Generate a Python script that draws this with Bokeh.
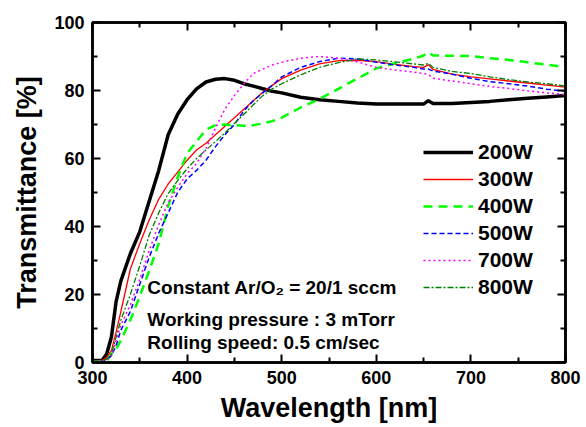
from bokeh.plotting import figure
from bokeh.models import (FixedTicker, LinearAxis, Legend, LegendItem, Label,
                          CustomJSTickFormatter)
from bokeh.embed import file_html
from bokeh.resources import INLINE

# ---------------- data ----------------
wavelength = [300, 310, 315, 320, 325, 330, 340, 350, 360, 370, 380, 390, 400,
              410, 420, 430, 440, 450, 460, 470, 480, 490, 500, 520, 540, 560,
              580, 600, 620, 640, 650, 655, 660, 680, 700, 720, 740, 760, 780, 800]

t_200w = [0.6, 0.6, 2.5, 7.5, 18, 24, 32, 38.5, 47.5, 56.5, 67, 73, 77.3,
          80.5, 82.5, 83.3, 83.5, 83, 82, 81.3, 80.5, 79.8, 79.3, 78, 77.3, 76.8,
          76.3, 76, 76, 76, 76, 77, 76.2, 76.2, 76.5, 76.8, 77.3, 77.7, 78.1, 78.5]

t_300w = [0.5, 0.5, 1.5, 3.5, 9, 15, 27.5, 35, 42, 48, 52.5, 56, 59.5,
          62.5, 64.5, 67, 69.5, 72, 74.5, 77, 79.5, 81.5, 83.5, 86, 87.8, 88.8,
          88.9, 88.5, 87.7, 87, 86.8, 87.6, 86.2, 84.8, 84, 83.4, 82.8, 82.2, 81.6, 81]

t_400w = [0.3, 0.3, 0.5, 2.5, 4, 6.5, 12.5, 19.5, 27, 35, 46, 54.5, 61.5,
          65, 68.5, 69.8, 70, 69.8, 69.6, 69.8, 70.3, 71, 72, 75, 77.5, 80.5,
          83.5, 86.5, 88, 89.4, 90.3, 91.2, 90.3, 90.2, 90.1, 89.5, 89, 88.3, 87.6, 86.8]

t_500w = [0.3, 0.3, 0.8, 2, 5, 9.5, 15, 23, 31, 38, 44, 50, 54,
          56.5, 59.5, 63.5, 67, 70, 74, 77, 79.3, 81.5, 84, 86.8, 88.5, 89.5,
          89.3, 88.3, 87.5, 86.8, 86.3, 86.3, 85.7, 84.8, 83.6, 82.6, 82, 81.3, 80.4, 79.8]

t_700w = [0.3, 0.4, 0.8, 2, 6.5, 11, 17, 24.5, 33, 40.5, 47, 51.5, 55.5,
          58.5, 63, 69, 74.5, 78.5, 82, 85, 86.3, 87.5, 88.3, 89.5, 90, 89.5,
          88.4, 86.8, 86, 85.4, 85, 84.7, 83.6, 82.8, 82, 81.2, 80.6, 79.9, 79.3, 78.8]

t_800w = [0.3, 0.4, 1, 2.5, 7.5, 12.5, 20, 28.5, 37.5, 44, 49.7, 53.5, 57,
          60, 62.5, 65, 67.5, 70.3, 73, 75.8, 78.5, 80.5, 82, 84.6, 86.8, 88.2,
          89.3, 89, 88.4, 87.8, 87.5, 88, 86.8, 85.6, 85, 84, 83.2, 82.5, 82, 81.3]

series_labels = ["200W", "300W", "400W", "500W", "700W", "800W"]
x_ticks = [300, 400, 500, 600, 700, 800]
x_minor = [350, 450, 550, 650, 750]
y_ticks = [0, 20, 40, 60, 80, 100]
y_minor = [10, 30, 50, 70, 90]

notes = ["Constant Ar/O\u2082 = 20/1 sccm",
         "Working pressure : 3 mTorr",
         "Rolling speed: 0.5 cm/sec"]

FONT = "Liberation Sans"

# ---------------- figure ----------------
p = figure(width=586, height=427, x_range=(300, 800), y_range=(0, 100),
           output_backend="svg", toolbar_location=None,
           min_border_left=92, min_border_right=21, min_border_top=22,
           min_border_bottom=65)
p.grid.visible = False
p.outline_line_color = "black"
p.outline_line_width = 2.5
p.background_fill_color = "white"
p.border_fill_color = "white"

xt = FixedTicker(ticks=x_ticks, minor_ticks=x_minor)
yt = FixedTicker(ticks=y_ticks, minor_ticks=y_minor)


def style_axis(ax, show_labels=True):
    ax.axis_line_width = 2.5
    ax.axis_line_color = "black"
    ax.major_tick_in = 8
    ax.major_tick_out = 0
    ax.minor_tick_in = 5
    ax.minor_tick_out = 0
    ax.major_tick_line_width = 2
    ax.minor_tick_line_width = 2
    ax.major_tick_line_color = "black"
    ax.minor_tick_line_color = "black"
    if show_labels:
        ax.major_label_text_font = FONT
        ax.major_label_text_font_style = "bold"
        ax.major_label_text_font_size = "18px"
        ax.major_label_text_color = "black"
        ax.axis_label_text_font = FONT
        ax.axis_label_text_font_style = "bold"
        ax.axis_label_text_font_size = "27px"
        ax.axis_label_text_color = "black"
    else:
        ax.formatter = CustomJSTickFormatter(code="return '';")
        ax.major_label_standoff = 0


xa = p.xaxis[0]
xa.ticker = xt
style_axis(xa)
xa.axis_label = "Wavelength [nm]"
xa.major_label_standoff = 8
xa.axis_label_standoff = 6

ya = p.yaxis[0]
ya.ticker = yt
style_axis(ya)
ya.axis_label = "Transmittance [%]"
ya.major_label_standoff = 8
ya.axis_label_standoff = 9

top = LinearAxis(ticker=xt)
style_axis(top, show_labels=False)
p.add_layout(top, "above")
right = LinearAxis(ticker=yt)
style_axis(right, show_labels=False)
p.add_layout(right, "right")

# ---------------- lines ----------------
r200 = p.line(wavelength, t_200w, line_color="black", line_width=3.5)
r300 = p.line(wavelength, t_300w, line_color="#ff0000", line_width=1.3)
r400 = p.line(wavelength, t_400w, line_color="#00ff00", line_width=2.5,
              line_dash="9 6")
r500 = p.line(wavelength, t_500w, line_color="#0000ff", line_width=1.5,
              line_dash="5 3")
r700 = p.line(wavelength, t_700w, line_color="#ff00ff", line_width=1.5,
              line_dash="2 3")
r800 = p.line(wavelength, t_800w, line_color="#008000", line_width=1.3,
              line_dash="6 2 2 2")

renderers = [r200, r300, r400, r500, r700, r800]
legend = Legend(items=[LegendItem(label=lab, renderers=[r])
                       for lab, r in zip(series_labels, renderers)],
                location=(331, 63), glyph_width=50, glyph_height=20,
                label_height=20, label_standoff=5, spacing=3, padding=0,
                margin=0, border_line_color=None, background_fill_alpha=0,
                label_text_font=FONT, label_text_font_style="bold",
                label_text_font_size="21px", label_text_color="black")
p.add_layout(legend)

# ---------------- annotations ----------------
note_y = [22, 12.6, 5.9]
for txt, yy in zip(notes, note_y):
    p.add_layout(Label(x=358, y=yy, text=txt, text_font=FONT,
                       text_font_style="bold", text_font_size="19px",
                       text_baseline="middle", text_color="black"))

open("out.html", "w").write(file_html(p, INLINE))
